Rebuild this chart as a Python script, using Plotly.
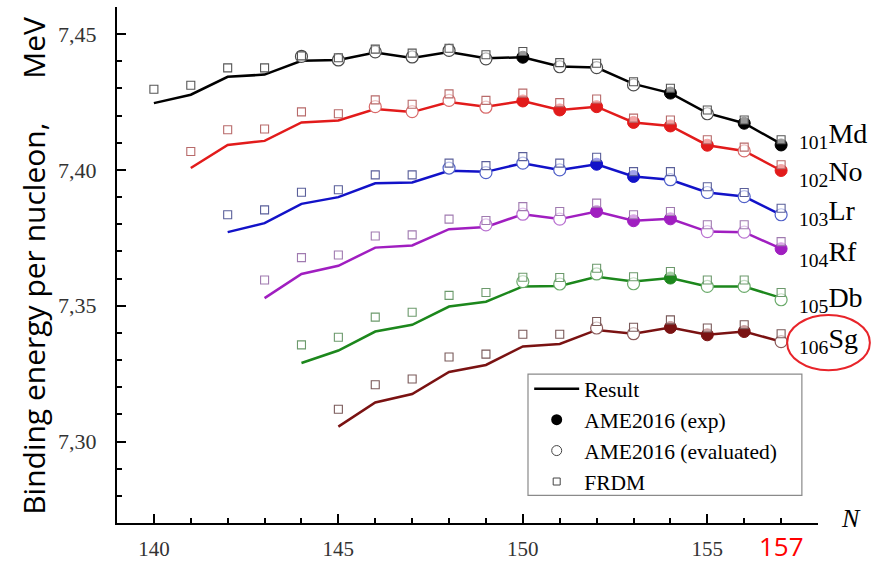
import plotly.graph_objects as go

# Binding energy per nucleon (MeV) vs neutron number N for isotopes of Md..Sg
MD_N = list(range(140, 158))
MD_RESULT = [7.4246, 7.4277, 7.4343, 7.4351, 7.4402, 7.4405, 7.4432, 7.4412, 7.4434,
             7.4411, 7.4415, 7.4381, 7.4377, 7.4317, 7.4283, 7.4209, 7.4172, 7.4096]
MD_FRDM = [7.4297, 7.4312, 7.4376, 7.4376, 7.4420, 7.4413, 7.4445, 7.4430, 7.4448,
           7.4424, 7.4436, 7.4395, 7.4393, 7.4325, 7.4301, 7.4221, 7.4184, 7.4111]
MD_EXP_N = [150, 154, 156, 157]
MD_EXP = [7.4415, 7.4283, 7.4172, 7.4092]
MD_EVAL_N = [144, 145, 146, 147, 148, 149, 151, 152, 153, 155]
MD_EVAL = [7.4418, 7.4405, 7.4435, 7.4416, 7.4440, 7.4409, 7.4380, 7.4377, 7.4313, 7.4207]

NO_N = list(range(141, 158))
NO_RESULT = [7.4007, 7.4092, 7.4107, 7.4175, 7.4182, 7.4224, 7.4213, 7.4250, 7.4233,
             7.4254, 7.4221, 7.4233, 7.4175, 7.4162, 7.4091, 7.4070, 7.3998]
NO_FRDM = [7.4068, 7.4148, 7.4151, 7.4214, 7.4207, 7.4258, 7.4242, 7.4280, 7.4256,
           7.4283, 7.4248, 7.4261, 7.4191, 7.4184, 7.4111, 7.4084, 7.4019]
NO_EXP_N = [150, 151, 152, 153, 154, 155, 157]
NO_EXP = [7.4254, 7.4221, 7.4233, 7.4175, 7.4162, 7.4091, 7.3998]
NO_EVAL_N = [146, 147, 148, 149, 156]
NO_EVAL = [7.4233, 7.4215, 7.4256, 7.4231, 7.4070]

LR_N = list(range(142, 158))
LR_RESULT = [7.3771, 7.3804, 7.3875, 7.3900, 7.3951, 7.3954, 7.3997, 7.3993,
             7.4025, 7.4000, 7.4021, 7.3976, 7.3964, 7.3917, 7.3902, 7.3835]
LR_FRDM = [7.3835, 7.3853, 7.3918, 7.3927, 7.3982, 7.3982, 7.4025, 7.4016,
           7.4049, 7.4025, 7.4047, 7.3994, 7.3994, 7.3938, 7.3917, 7.3859]
LR_EXP_N = [152, 153]
LR_EXP = [7.4021, 7.3976]
LR_EVAL_N = [148, 149, 150, 151, 154, 155, 156, 157]
LR_EVAL = [7.4007, 7.3990, 7.4025, 7.4000, 7.3964, 7.3917, 7.3902, 7.3835]

RF_N = list(range(143, 158))
RF_RESULT = [7.3528, 7.3617, 7.3647, 7.3714, 7.3722, 7.3782, 7.3790, 7.3837,
             7.3819, 7.3847, 7.3813, 7.3820, 7.3773, 7.3771, 7.3710]
RF_FRDM = [7.3595, 7.3677, 7.3687, 7.3757, 7.3761, 7.3819, 7.3814, 7.3865,
           7.3847, 7.3878, 7.3835, 7.3847, 7.3798, 7.3798, 7.3736]
RF_EXP_N = [152, 153, 154, 157]
RF_EXP = [7.3847, 7.3813, 7.3820, 7.3710]
RF_EVAL_N = [149, 150, 151, 155, 156]
RF_EVAL = [7.3798, 7.3837, 7.3819, 7.3773, 7.3771]

DB_N = list(range(144, 158))
DB_RESULT = [7.3289, 7.3335, 7.3405, 7.3430, 7.3497, 7.3515, 7.3571, 7.3573,
             7.3607, 7.3589, 7.3602, 7.3571, 7.3571, 7.3529]
DB_FRDM = [7.3356, 7.3384, 7.3458, 7.3476, 7.3538, 7.3549, 7.3605, 7.3604,
           7.3638, 7.3607, 7.3626, 7.3595, 7.3595, 7.3549]
DB_EXP_N = [154]
DB_EXP = [7.3602]
DB_EVAL_N = [150, 151, 152, 153, 155, 156, 157]
DB_EVAL = [7.3589, 7.3580, 7.3617, 7.3581, 7.3571, 7.3571, 7.3522]

SG_N = list(range(145, 158))
SG_RESULT = [7.3055, 7.3144, 7.3175, 7.3256, 7.3282, 7.3350, 7.3359, 7.3411,
             7.3397, 7.3420, 7.3393, 7.3405, 7.3368]
SG_FRDM = [7.3119, 7.3209, 7.3230, 7.3311, 7.3322, 7.3395, 7.3395, 7.3442,
           7.3421, 7.3448, 7.3418, 7.3430, 7.3397]
SG_EXP_N = [154, 155, 156]
SG_EXP = [7.3420, 7.3393, 7.3405]
SG_EVAL_N = [152, 153, 157]
SG_EVAL = [7.3418, 7.3397, 7.3368]

ELEMENTS = ["Md", "No", "Lr", "Rf", "Db", "Sg"]
Z_NUMBERS = ["101", "102", "103", "104", "105", "106"]
LABEL_Y = [7.4126, 7.3986, 7.3844, 7.3691, 7.3522, 7.3371]

X_TICKS = [140, 145, 150, 155]
Y_TICKS = [7.30, 7.35, 7.40, 7.45]
Y_TICK_TEXT = ["7,30", "7,35", "7,40", "7,45"]
HIGHLIGHT_N = 157
# rotated y title, set as quantity and unit so the unit sits right after the comma
Y_TITLE_QUANTITY = "Binding energy per nucleon,"
Y_TITLE_UNIT = "MeV"

LINE_COLORS = ["#000000", "#e21b1b", "#1212c8", "#a01ec0", "#1c871c", "#7a1212"]
OPEN_COLORS = ["#4a4a4a", "#d86a6a", "#5060c8", "#b870d0", "#6aaa6a", "#8a5a5a"]
SQUARE_COLORS = ["#555555", "#b86a6a", "#5a5f9a", "#a07ab0", "#6c9a6c", "#7a5a5a"]

series = [
    (MD_N, MD_RESULT, MD_FRDM, MD_EXP_N, MD_EXP, MD_EVAL_N, MD_EVAL),
    (NO_N, NO_RESULT, NO_FRDM, NO_EXP_N, NO_EXP, NO_EVAL_N, NO_EVAL),
    (LR_N, LR_RESULT, LR_FRDM, LR_EXP_N, LR_EXP, LR_EVAL_N, LR_EVAL),
    (RF_N, RF_RESULT, RF_FRDM, RF_EXP_N, RF_EXP, RF_EVAL_N, RF_EVAL),
    (DB_N, DB_RESULT, DB_FRDM, DB_EXP_N, DB_EXP, DB_EVAL_N, DB_EVAL),
    (SG_N, SG_RESULT, SG_FRDM, SG_EXP_N, SG_EXP, SG_EVAL_N, SG_EVAL),
]

SERIF = "Liberation Serif"
fig = go.Figure()

for i, (n, res, frdm, en, ev, vn, vv) in enumerate(series):
    fig.add_trace(go.Scatter(x=n, y=res, mode="lines", showlegend=False,
                             line=dict(color=LINE_COLORS[i], width=2.5), cliponaxis=False))
    fig.add_trace(go.Scatter(x=vn, y=vv, mode="markers", showlegend=False, cliponaxis=False,
                             marker=dict(symbol="circle", size=12, color="white",
                                         line=dict(color=OPEN_COLORS[i], width=1.2))))
    fig.add_trace(go.Scatter(x=en, y=ev, mode="markers", showlegend=False, cliponaxis=False,
                             marker=dict(symbol="circle", size=12, color=LINE_COLORS[i],
                                         line=dict(color=LINE_COLORS[i], width=1))))
    fig.add_trace(go.Scatter(x=n, y=frdm, mode="markers", showlegend=False, cliponaxis=False,
                             marker=dict(symbol="square", size=8, color="rgba(255,255,255,0.6)",
                                         line=dict(color=SQUARE_COLORS[i], width=1.1))))

# legend entries
fig.add_trace(go.Scatter(x=[None], y=[None], mode="lines", name="Result",
                         line=dict(color="black", width=2.5)))
fig.add_trace(go.Scatter(x=[None], y=[None], mode="markers", name="AME2016 (exp)",
                         marker=dict(symbol="circle", size=11, color="black")))
fig.add_trace(go.Scatter(x=[None], y=[None], mode="markers", name="AME2016 (evaluated)",
                         marker=dict(symbol="circle", size=10, color="white",
                                     line=dict(color="#444", width=1))))
fig.add_trace(go.Scatter(x=[None], y=[None], mode="markers", name="FRDM",
                         marker=dict(symbol="square", size=7, color="white",
                                     line=dict(color="#444", width=1))))

annotations = []
for el, z, yv in zip(ELEMENTS, Z_NUMBERS, LABEL_Y):
    annotations.append(dict(x=157.42, y=yv, xref="x", yref="y", xanchor="left", yanchor="middle",
                            text=f"<sub>{z}</sub>{el}", showarrow=False,
                            font=dict(family=SERIF, size=28, color="black")))
annotations.append(dict(x=HIGHLIGHT_N, y=-0.044, xref="x", yref="paper", text=str(HIGHLIGHT_N),
                        xanchor="center", yanchor="middle", showarrow=False,
                        font=dict(family="Open Sans", size=26, color="#ff0000")))
annotations.append(dict(x=1.047, y=0.009, xref="paper", yref="paper", text="<i>N</i>",
                        xanchor="center", yanchor="middle", showarrow=False,
                        font=dict(family=SERIF, size=26, color="black")))
title_font = dict(family="Open Sans", size=30, color="black")
annotations.append(dict(x=-0.1184, y=0.012, xref="paper", yref="paper", text=Y_TITLE_QUANTITY,
                        textangle=-90, xanchor="center", yanchor="bottom", showarrow=False,
                        font=title_font))
annotations.append(dict(x=-0.1184, y=0.985, xref="paper", yref="paper", text=Y_TITLE_UNIT,
                        textangle=-90, xanchor="center", yanchor="top", showarrow=False,
                        font=title_font))

shapes = [
    dict(type="circle", xref="paper", yref="paper", x0=0.956, x1=1.074, y0=0.296, y1=0.403,
         line=dict(color="#e8242a", width=2)),
    dict(type="rect", xref="paper", yref="paper", x0=0.5863, x1=0.977, y0=0.0535, y1=0.2885,
         line=dict(color="#8a8a8a", width=1.2)),
]

axis_common = dict(showline=True, linecolor="black", linewidth=2, ticks="inside",
                   tickcolor="black", tickwidth=1.5, ticklen=9, showgrid=False, zeroline=False,
                   mirror=False, automargin=False)

fig.update_layout(
    width=871, height=563,
    margin=dict(l=117, r=53, t=7, b=40, autoexpand=False),
    paper_bgcolor="white", plot_bgcolor="white",
    xaxis=dict(range=[139, 158], tickvals=X_TICKS, ticklabelstandoff=6,
               tickfont=dict(family=SERIF, size=21, color="#333333"),
               minor=dict(ticks="inside", dtick=1, ticklen=5, tickcolor="black", tickwidth=1.5),
               **axis_common),
    yaxis=dict(range=[7.27, 7.46], tickvals=Y_TICKS, ticktext=Y_TICK_TEXT, ticklabelstandoff=14,
               tickfont=dict(family=SERIF, size=22, color="#333333"),
               minor=dict(ticks="inside", dtick=0.01, tick0=7.30, ticklen=5, tickcolor="black",
                          tickwidth=1.5),
               **axis_common),
    legend=dict(x=0.588, y=0.300, xanchor="left", yanchor="top", bgcolor="rgba(0,0,0,0)",
                borderwidth=0, font=dict(family=SERIF, size=21.5, color="black"),
                itemwidth=45, tracegroupgap=0),
    annotations=annotations,
    shapes=shapes,
)

fig.write_html("out.html")
